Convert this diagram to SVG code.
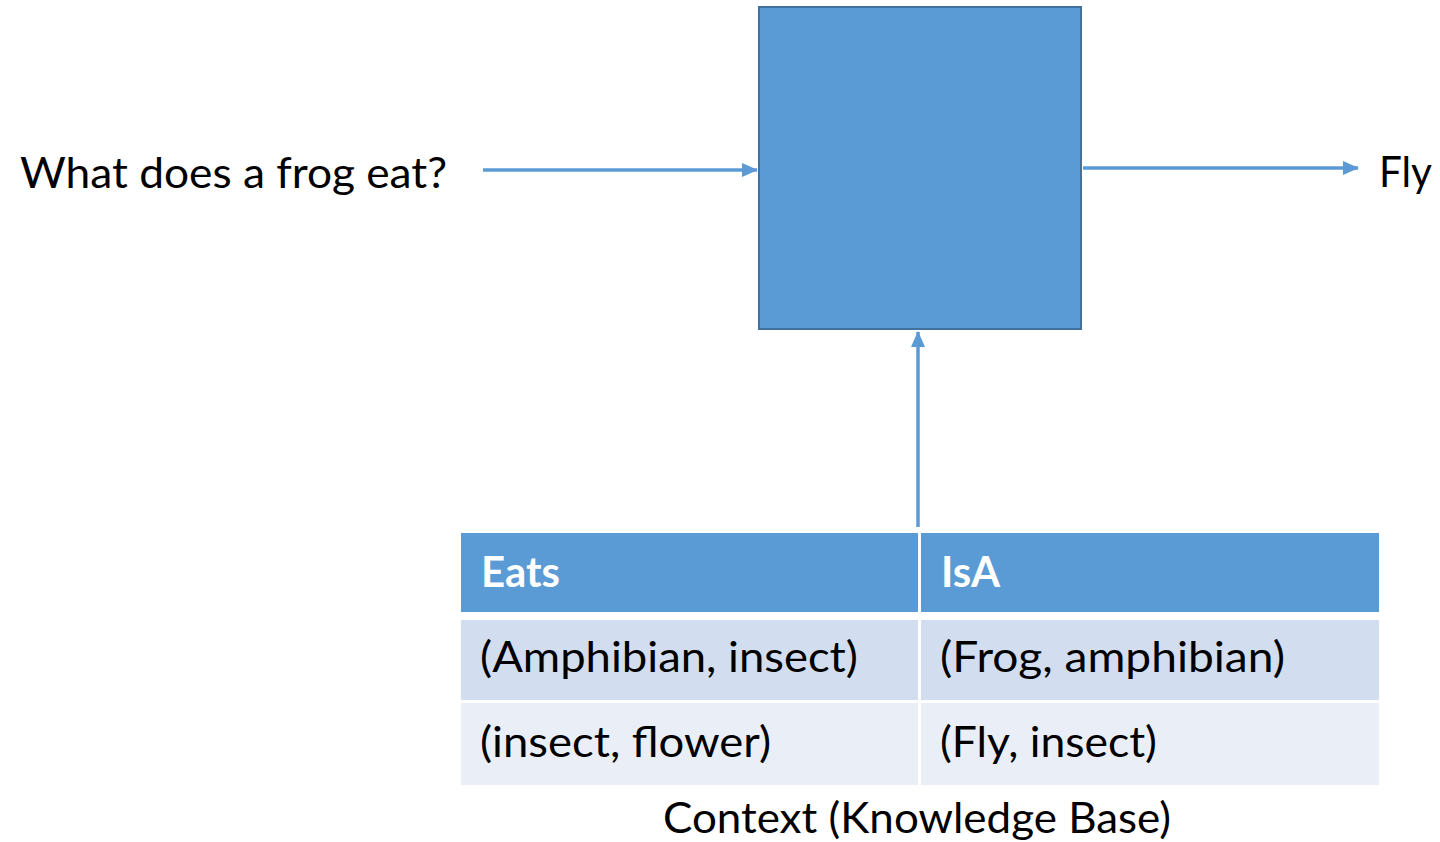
<svg xmlns="http://www.w3.org/2000/svg" width="1440" height="842" viewBox="0 0 1440 842">
<style>
.t{font-family:Lato,"Open Sans","Liberation Sans",sans-serif;font-size:42px;fill:#000}
.h{font-family:Lato,"Open Sans","Liberation Sans",sans-serif;font-size:42px;font-weight:bold;fill:#fff}
.c{stroke:#5b9bd5;stroke-width:3.5;fill:none}
</style>
<defs>
<marker id="ah" markerUnits="userSpaceOnUse" markerWidth="16" markerHeight="14" refX="15" refY="7" orient="auto">
<path d="M0,0 L16,7 L0,14 Z" fill="#5b9bd5"/>
</marker>
</defs>
<rect width="1440" height="842" fill="#fff"/>
<g id="model">
<rect x="759" y="7" width="322" height="322" fill="#5b9bd5" stroke="#41719c" stroke-width="2"/>
</g>
<g id="question">
<text class="t" x="20" y="188" textLength="427" lengthAdjust="spacingAndGlyphs">What does a frog eat?</text>
</g>
<g id="answer">
<text class="t" x="1379" y="187" textLength="53" lengthAdjust="spacingAndGlyphs">Fly</text>
</g>
<g id="kb">
<rect x="461" y="533" width="918" height="79" fill="#5b9bd5"/>
<rect x="461" y="620" width="918" height="80" fill="#d2deef"/>
<rect x="461" y="703" width="918" height="82" fill="#eaeff7"/>
<line x1="919.5" y1="533" x2="919.5" y2="785" stroke="#fff" stroke-width="3"/>
<text class="h" x="481" y="587" textLength="79" lengthAdjust="spacingAndGlyphs">Eats</text>
<text class="h" x="941" y="587" textLength="59" lengthAdjust="spacingAndGlyphs">IsA</text>
<text class="t" x="480" y="672" textLength="378" lengthAdjust="spacingAndGlyphs">(Amphibian, insect)</text>
<text class="t" x="940" y="672" textLength="345" lengthAdjust="spacingAndGlyphs">(Frog, amphibian)</text>
<text class="t" x="480" y="757" textLength="291" lengthAdjust="spacingAndGlyphs">(insect, flower)</text>
<text class="t" x="940" y="757" textLength="217" lengthAdjust="spacingAndGlyphs">(Fly, insect)</text>
<text class="t" x="663" y="833" textLength="508" lengthAdjust="spacingAndGlyphs">Context (Knowledge Base)</text>
</g>
<g id="connectors">
<line class="c" x1="483" y1="170" x2="757" y2="170" marker-end="url(#ah)"/>
<line class="c" x1="1083" y1="168" x2="1358" y2="168" marker-end="url(#ah)"/>
<line class="c" x1="918" y1="527" x2="918" y2="332" marker-end="url(#ah)"/>
</g>
</svg>
